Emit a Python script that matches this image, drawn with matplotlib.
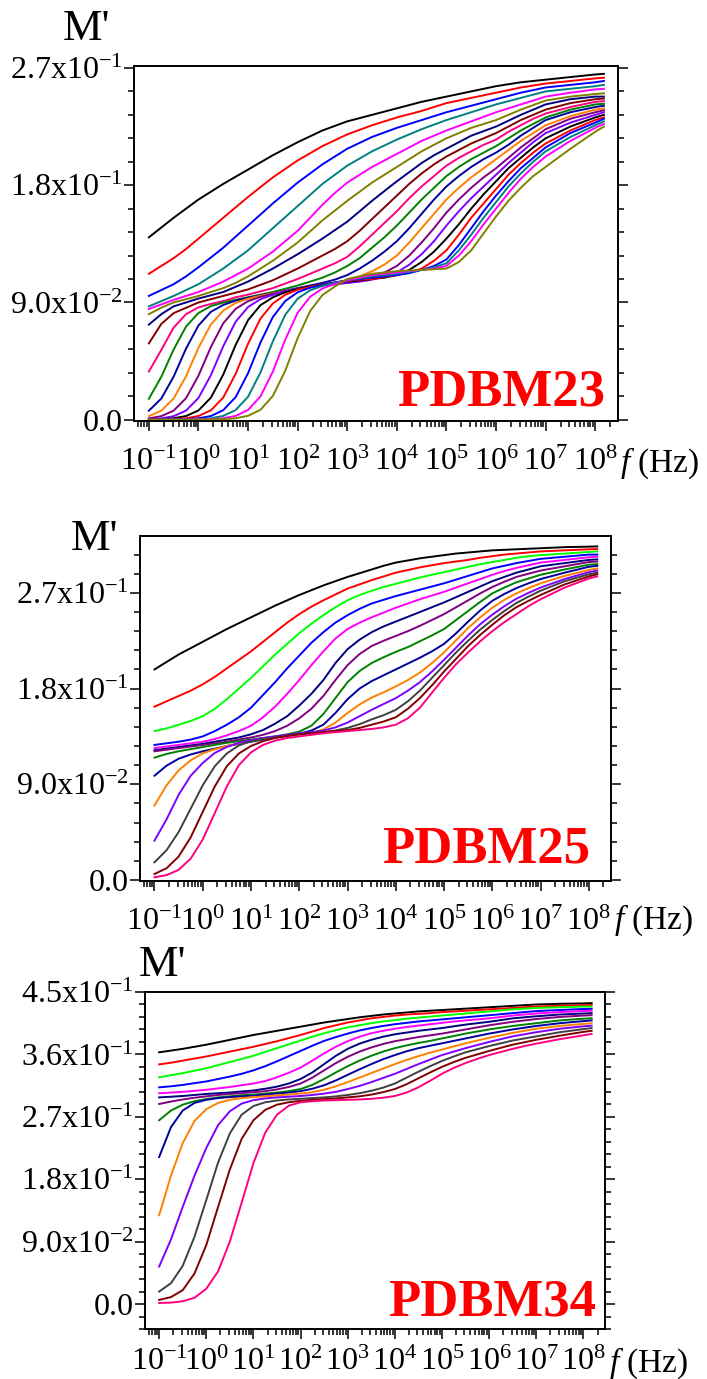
import numpy as np
import matplotlib
matplotlib.use("Agg")
import matplotlib.pyplot as plt
from matplotlib.ticker import MultipleLocator, LogLocator, FuncFormatter, NullFormatter

plt.rcParams["font.family"] = ["Liberation Serif", "DejaVu Serif"]
plt.rcParams["mathtext.fontset"] = "custom"
plt.rcParams["mathtext.rm"] = "Liberation Serif"
plt.rcParams["mathtext.it"] = "Liberation Serif:italic"
plt.rcParams["mathtext.bf"] = "Liberation Serif:bold"

# frequency grid (Hz), quarter-decade steps, coarser at the top end
FREQ = [1.00e-1, 1.78e-1, 3.16e-1, 5.62e-1, 1.00e0, 1.78e0, 3.16e0, 5.62e0,
        1.00e1, 1.78e1, 3.16e1, 5.62e1, 1.00e2, 1.78e2, 3.16e2, 5.62e2,
        1.00e3, 1.78e3, 3.16e3, 5.62e3, 1.00e4, 1.78e4, 3.16e4, 5.62e4,
        1.00e5, 1.78e5, 3.16e5, 5.62e5, 1.00e6, 1.78e6, 3.16e6, 5.62e6,
        1.00e7, 3.16e7, 1.00e8, 1.50e8]

# ---- PDBM23: M' vs f, one row per temperature ----
PDBM23_M = [
    [.140, .1475, .155, .162, .169, .175, .181, .1865, .192, .1975, .203, .208, .213, .2175, .222, .2255, .229, .2315, .234, .2365, .239, .2415, .244, .246, .248, .250, .252, .254, .256, .2575, .259, .260, .261, .263, .265, .2655],
    [.112, .118, .124, .131, .139, .147, .155, .163, .171, .1785, .186, .1925, .199, .2045, .210, .2145, .219, .2225, .226, .229, .232, .2345, .237, .240, .243, .245, .247, .249, .251, .253, .255, .2565, .258, .260, .262, .2625],
    [.095, .0995, .104, .110, .117, .1245, .132, .1405, .149, .1575, .166, .174, .182, .189, .196, .202, .208, .2125, .217, .2205, .224, .227, .230, .233, .236, .2385, .241, .2435, .246, .2485, .251, .253, .255, .257, .259, .260],
    [.087, .091, .095, .0995, .104, .110, .116, .123, .130, .1385, .147, .1555, .164, .1725, .181, .188, .195, .2005, .206, .2105, .215, .219, .223, .2265, .230, .233, .236, .239, .242, .2445, .247, .2495, .252, .254, .256, .257],
    [.085, .0885, .092, .095, .098, .102, .106, .111, .116, .1225, .129, .137, .145, .155, .165, .174, .182, .188, .194, .199, .204, .209, .214, .218, .222, .2255, .229, .2325, .236, .239, .242, .245, .248, .251, .2535, .254],
    [.081, .086, .090, .0925, .095, .098, .101, .105, .110, .116, .122, .129, .136, .1445, .153, .1605, .168, .175, .182, .188, .194, .200, .206, .211, .216, .220, .224, .227, .230, .234, .238, .2415, .245, .248, .250, .2505],
    [.073, .081, .087, .090, .093, .0955, .098, .102, .106, .111, .116, .1215, .127, .133, .139, .1455, .152, .160, .168, .1755, .183, .190, .197, .203, .208, .213, .218, .2215, .225, .2295, .234, .238, .242, .246, .248, .248],
    [.0586, .0735, .0818, .0859, .090, .0925, .095, .0975, .100, .1035, .107, .1115, .116, .121, .126, .131, .137, .145, .154, .163, .172, .181, .189, .196, .202, .207, .212, .216, .220, .225, .230, .234, .238, .243, .246, .2465],
    [.037, .0536, .0707, .081, .0862, .0889, .091, .094, .096, .0985, .101, .1045, .108, .112, .116, .120, .125, .133, .142, .151, .160, .170, .179, .187, .195, .201, .206, .211, .215, .221, .226, .231, .235, .240, .244, .2445],
    [.0161, .0329, .0539, .0715, .0819, .0872, .0899, .0921, .094, .096, .098, .1005, .103, .106, .109, .113, .118, .124, .132, .140, .149, .159, .169, .178, .187, .194, .200, .205, .210, .216, .222, .227, .232, .238, .242, .2425],
    [.0069, .0162, .0331, .0546, .0723, .0828, .0881, .0914, .0936, .0955, .0972, .099, .101, .103, .105, .1075, .111, .116, .122, .129, .137, .147, .158, .169, .179, .187, .194, .200, .205, .211, .218, .224, .230, .236, .240, .241],
    [.0027, .0069, .0163, .0334, .0552, .0731, .0837, .0896, .0929, .0951, .097, .0988, .1005, .102, .1035, .105, .107, .110, .114, .119, .126, .136, .147, .158, .169, .178, .186, .193, .200, .207, .214, .220, .226, .233, .238, .239],
    [.001, .0027, .007, .0165, .0338, .0558, .074, .0851, .091, .0943, .0966, .0988, .1005, .1018, .103, .104, .105, .1065, .109, .113, .118, .126, .136, .147, .159, .169, .178, .186, .193, .201, .209, .216, .223, .231, .236, .2375],
    [.0004, .001, .0027, .007, .0167, .0342, .0564, .0752, .0865, .0925, .0958, .0985, .1008, .102, .1032, .1042, .105, .106, .1075, .110, .113, .119, .127, .137, .149, .160, .170, .179, .188, .197, .205, .213, .220, .228, .234, .236],
    [.0001, .0004, .0011, .0028, .0071, .0169, .0346, .0574, .0764, .0879, .0939, .0978, .1005, .1022, .1038, .105, .106, .107, .108, .109, .111, .115, .121, .129, .139, .150, .162, .173, .183, .193, .201, .209, .216, .225, .232, .234],
    [.0001, .0001, .0004, .0011, .0028, .0072, .017, .0352, .0583, .0776, .0892, .0959, .0998, .102, .1038, .1053, .1065, .1075, .108, .1095, .111, .113, .116, .122, .130, .142, .155, .166, .177, .188, .197, .205, .212, .222, .230, .232],
    [.0, .0001, .0001, .0004, .0011, .0028, .0073, .0173, .0357, .0592, .0788, .0911, .0978, .1013, .1035, .1053, .107, .108, .109, .110, .111, .1125, .115, .118, .123, .134, .147, .160, .172, .183, .193, .201, .209, .220, .228, .231],
    [.0, .0, .0001, .0001, .0004, .0011, .0029, .0074, .0176, .0363, .0601, .0805, .0929, .0993, .1027, .105, .107, .1085, .110, .111, .112, .1135, .115, .117, .120, .130, .142, .155, .167, .179, .189, .198, .206, .217, .226, .229],
    [.0, .0, .0, .0001, .0002, .0004, .0011, .0029, .0075, .0179, .0369, .0614, .0821, .0943, .1007, .1042, .107, .109, .111, .112, .113, .114, .115, .116, .118, .126, .137, .150, .162, .174, .185, .194, .202, .214, .224, .227],
    [.0, .0, .0, .0, .0001, .0002, .0004, .0011, .003, .0076, .0182, .0376, .0626, .0833, .0957, .1022, .108, .110, .112, .113, .114, .1145, .115, .1155, .116, .121, .130, .143, .156, .168, .178, .187, .194, .208, .221, .225],
]
PDBM23_COLORS = ["#000000", "#FF0000", "#0000FF", "#008080", "#FF00FF",
                 "#808000", "#000080", "#800000", "#FF0080", "#008000",
                 "#0000A0", "#FF8000", "#800080", "#8000FF", "#000000",
                 "#FF0000", "#0000FF", "#008080", "#FF00FF", "#808000"]

# ---- PDBM25 ----
PDBM25_M = [
    [.198, .205, .212, .218, .224, .230, .236, .2415, .247, .2525, .258, .263, .268, .2725, .277, .281, .285, .2885, .292, .2955, .2985, .3005, .3025, .304, .3055, .307, .308, .309, .310, .3105, .311, .3115, .312, .313, .3135, .3137],
    [.163, .168, .173, .178, .184, .191, .199, .207, .215, .224, .233, .242, .250, .257, .263, .2685, .274, .278, .282, .2855, .289, .2915, .294, .296, .298, .2995, .301, .303, .3045, .306, .307, .308, .309, .310, .311, .3112],
    [.140, .1425, .146, .1495, .154, .161, .170, .180, .190, .201, .212, .222, .232, .241, .249, .2565, .263, .268, .272, .2755, .2785, .2815, .2845, .287, .2895, .292, .2945, .297, .299, .301, .303, .3045, .3055, .307, .3085, .309],
    [.127, .1285, .130, .132, .135, .140, .146, .153, .162, .174, .186, .199, .211, .223, .233, .242, .249, .255, .260, .2635, .267, .270, .273, .276, .279, .2825, .286, .2895, .293, .2955, .298, .300, .302, .304, .306, .306],
    [.124, .1255, .127, .1285, .130, .1325, .136, .140, .145, .153, .163, .175, .188, .202, .215, .227, .236, .242, .247, .2515, .256, .260, .264, .2675, .271, .275, .279, .283, .287, .2905, .2935, .296, .2985, .301, .3035, .304],
    [.122, .1235, .125, .1265, .128, .130, .132, .134, .137, .141, .147, .154, .164, .175, .188, .204, .217, .226, .233, .2385, .243, .2475, .252, .2565, .261, .266, .271, .276, .281, .285, .289, .292, .295, .298, .301, .3015],
    [.121, .1225, .124, .1255, .127, .1285, .130, .132, .134, .1365, .140, .145, .152, .161, .173, .188, .202, .2125, .220, .225, .2295, .234, .239, .2445, .250, .2565, .263, .2695, .2755, .2805, .285, .288, .291, .295, .299, .2995],
    [.115, .1185, .121, .123, .125, .127, .129, .1305, .132, .1335, .135, .137, .1395, .145, .156, .171, .186, .1965, .204, .2095, .2145, .219, .2245, .230, .236, .2445, .253, .2615, .2695, .275, .280, .2835, .287, .292, .2965, .297],
    [.098, .1075, .114, .118, .121, .1235, .126, .128, .130, .132, .134, .1355, .1375, .1405, .146, .157, .170, .180, .187, .1925, .198, .2035, .209, .215, .222, .232, .243, .2535, .2625, .269, .2745, .279, .283, .289, .2945, .2955],
    [.070, .089, .103, .1125, .119, .123, .126, .1285, .131, .1325, .134, .1355, .137, .1385, .1415, .148, .157, .165, .1715, .1765, .182, .188, .195, .204, .214, .2255, .237, .247, .256, .2635, .2695, .2745, .279, .286, .2915, .293],
    [.037, .057, .080, .098, .110, .1195, .125, .129, .1315, .1335, .135, .1365, .138, .139, .1405, .1435, .148, .154, .160, .1655, .171, .178, .186, .196, .207, .2185, .230, .2405, .2495, .2575, .2645, .270, .275, .283, .2895, .291],
    [.0166, .028, .045, .067, .089, .107, .119, .1265, .1305, .1325, .134, .1355, .137, .138, .139, .1405, .143, .1465, .151, .155, .160, .168, .178, .190, .202, .214, .225, .2355, .2445, .253, .2605, .2665, .272, .281, .2875, .289],
    [.0056, .011, .022, .040, .064, .088, .107, .119, .126, .1305, .1335, .1355, .137, .138, .139, .140, .141, .143, .146, .149, .153, .161, .171, .183, .196, .208, .220, .2305, .240, .249, .2565, .2625, .268, .278, .2855, .2875],
    [.0025, .0045, .0095, .020, .038, .063, .088, .108, .120, .127, .131, .1335, .135, .1365, .138, .139, .140, .141, .142, .1435, .146, .152, .162, .176, .190, .203, .214, .2245, .234, .2425, .250, .2575, .264, .275, .2835, .2855],
]

# ---- PDBM34 ----
PDBM34_M = [
    [.363, .3655, .368, .371, .374, .3775, .381, .3845, .388, .391, .394, .397, .400, .403, .406, .4085, .411, .4135, .4155, .4175, .419, .4205, .422, .423, .424, .425, .426, .427, .428, .429, .430, .431, .432, .433, .4335, .434],
    [.3456, .348, .351, .354, .357, .3605, .364, .3675, .371, .375, .379, .3835, .388, .393, .398, .402, .406, .409, .412, .414, .416, .4175, .4185, .4195, .421, .422, .423, .424, .425, .426, .427, .428, .429, .430, .431, .4313],
    [.327, .330, .333, .3365, .340, .3445, .349, .3535, .358, .3635, .369, .3745, .380, .3855, .3905, .395, .399, .402, .405, .4075, .4095, .4115, .413, .4145, .416, .4175, .419, .4205, .422, .4235, .425, .426, .427, .428, .429, .429],
    [.3125, .314, .316, .3185, .321, .3245, .328, .332, .337, .343, .350, .3575, .365, .3725, .3795, .385, .390, .3945, .398, .401, .4035, .4055, .4075, .409, .4105, .412, .4135, .415, .4165, .418, .4195, .421, .4225, .424, .4255, .4257],
    [.304, .305, .306, .3075, .309, .311, .313, .3155, .318, .3215, .327, .3335, .341, .351, .3615, .371, .379, .3855, .3905, .394, .397, .3995, .4015, .4035, .4055, .4075, .409, .4105, .412, .414, .416, .4175, .419, .421, .4225, .423],
    [.298, .299, .300, .3015, .303, .304, .305, .3065, .308, .3105, .3135, .318, .3245, .334, .346, .358, .368, .3755, .381, .3855, .389, .3915, .394, .396, .398, .4005, .403, .405, .407, .4095, .412, .4135, .415, .4175, .419, .4195],
    [.2885, .292, .295, .2975, .2995, .3015, .303, .304, .3055, .307, .3095, .313, .318, .3265, .337, .3475, .3565, .364, .370, .375, .379, .382, .385, .3875, .390, .393, .396, .399, .402, .4045, .407, .409, .411, .414, .416, .4165],
    [.265, .279, .2875, .2925, .2955, .298, .2995, .301, .302, .3035, .305, .307, .310, .316, .3245, .334, .343, .351, .358, .364, .369, .373, .3765, .3795, .383, .3865, .390, .393, .396, .3985, .401, .403, .405, .409, .4115, .412],
    [.212, .255, .279, .290, .2945, .297, .2985, .2995, .3005, .302, .3035, .305, .307, .3105, .3155, .3225, .3305, .3385, .346, .353, .359, .3645, .369, .3725, .376, .3795, .383, .3865, .390, .393, .396, .3985, .401, .405, .408, .409],
    [.128, .185, .232, .264, .281, .290, .2945, .297, .2985, .2995, .301, .302, .3035, .3055, .309, .314, .320, .3265, .333, .3395, .346, .352, .3575, .3625, .367, .3715, .376, .380, .384, .3875, .391, .394, .397, .401, .404, .405],
    [.054, .093, .140, .185, .225, .258, .278, .289, .294, .2965, .298, .299, .300, .3015, .3035, .306, .310, .3145, .320, .326, .332, .339, .346, .3525, .359, .364, .369, .3735, .378, .382, .386, .389, .392, .397, .4005, .4015],
    [.018, .030, .055, .097, .150, .204, .246, .273, .2855, .291, .2935, .295, .296, .297, .298, .2995, .3015, .304, .3075, .312, .318, .3265, .335, .343, .3505, .357, .363, .3675, .372, .376, .380, .383, .386, .392, .3965, .398],
    [.006, .010, .020, .044, .085, .140, .194, .238, .265, .280, .2875, .291, .293, .2945, .2955, .2965, .298, .2995, .302, .3055, .310, .317, .3255, .334, .342, .349, .355, .360, .365, .3695, .374, .3775, .381, .387, .3925, .394],
    [.0015, .002, .004, .009, .022, .047, .090, .146, .203, .247, .273, .286, .291, .2925, .2935, .294, .2945, .295, .296, .2975, .300, .305, .3125, .322, .332, .3405, .3475, .3535, .359, .3635, .368, .372, .3755, .382, .3875, .3895],
]

# PDBM25 and PDBM34 share one palette
PDBM25_COLORS = ["#000000", "#FF0000", "#00FF00", "#0000FF", "#FF00FF",
                 "#000080", "#800080", "#008000", "#0000A0", "#FF8000",
                 "#8000FF", "#404040", "#800000", "#FF0080"]
PDBM34_COLORS = PDBM25_COLORS

FIG_W, FIG_H = 707, 1379
TICK_FS = 23


def px(x, y):
    """pixel position (from top-left) -> figure fraction"""
    return x / FIG_W, 1 - y / FIG_H


def sci_label(v, pos):
    if abs(v) < 1e-9:
        return "0.0"
    e = int(np.floor(np.log10(abs(v)) + 1e-9))
    m = v / 10 ** e
    return r"$\mathregular{" + f"{m:.1f}x10^{{{e}}}" + "}$"


def dec_label(v, pos):
    e = int(round(np.log10(v)))
    return r"$\mathregular{10^{" + str(e) + "}}$"


def draw_panel(fig, box, curves, colors, ylim, tag, tag_xy, m_xy, f_xy, xpad):
    left, top, right, bottom = box
    ax = fig.add_axes([left / FIG_W, 1 - bottom / FIG_H,
                       (right - left) / FIG_W, (bottom - top) / FIG_H])
    for vals, col in zip(curves, colors):
        ax.plot(FREQ, vals, color=col, lw=1.4)

    ax.set_xscale("log")
    ax.set_xlim(10 ** -1.30, 10 ** 8.46)
    ax.set_ylim(*ylim)

    ax.set_xticks([10.0 ** k for k in range(-1, 9)])
    ax.xaxis.set_minor_locator(LogLocator(base=10, subs=np.arange(2, 10), numticks=20))
    ax.xaxis.set_major_formatter(FuncFormatter(dec_label))
    ax.xaxis.set_minor_formatter(NullFormatter())
    ax.yaxis.set_major_locator(MultipleLocator(0.09))
    ax.yaxis.set_minor_locator(MultipleLocator(0.018))
    ax.yaxis.set_major_formatter(FuncFormatter(sci_label))

    ax.tick_params(which="both", direction="out", top=False, right=True,
                   labelsize=TICK_FS, width=1.1)
    ax.tick_params(which="major", length=7)
    ax.tick_params(which="minor", length=4)
    ax.tick_params(axis="y", pad=1)
    ax.tick_params(axis="x", pad=xpad)
    for sp in ax.spines.values():
        sp.set_linewidth(1.4)

    fig.text(*px(*m_xy), "M'", ha="center", va="center", fontsize=32)
    fig.text(*px(*f_xy), r"$\mathit{f}$ (Hz)", ha="left", va="baseline",
             fontsize=TICK_FS + 1)
    fig.text(*px(*tag_xy), tag, ha="right", va="baseline", color="red",
             fontweight="bold", fontsize=38)
    return ax


def main() -> None:
    fig = plt.figure(figsize=(FIG_W / 100, FIG_H / 100), dpi=100)

    draw_panel(fig, (134, 66, 618, 421), PDBM23_M, PDBM23_COLORS,
               (-0.001, 0.2715), "PDBM23", (605, 405), (87, 29), (620, 472), 12)
    draw_panel(fig, (140, 536, 611, 881), PDBM25_M, PDBM25_COLORS,
               (-0.001, 0.3235), "PDBM25", (590, 862), (94, 539), (614, 929), 12)
    draw_panel(fig, (145, 992, 605, 1329), PDBM34_M, PDBM34_COLORS,
               (-0.036, 0.45), "PDBM34", (596, 1315), (162, 965), (609, 1372), 6.5)

    fig.savefig("out.png", dpi=100)


if __name__ == "__main__":
    main()
